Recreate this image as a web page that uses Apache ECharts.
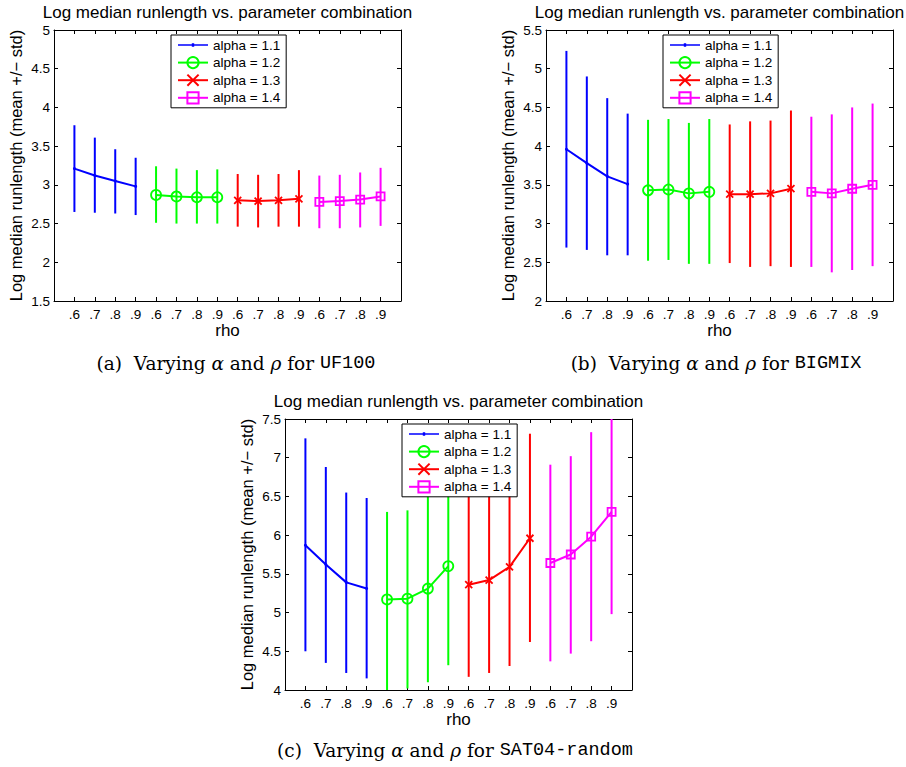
<!DOCTYPE html>
<html>
<head>
<meta charset="utf-8">
<script src="https://cdn.jsdelivr.net/npm/echarts@6/dist/echarts.min.js"></script>
<style>
  html, body { margin: 0; padding: 0; background: #fff; }
  #chart { width: 906px; height: 767px; }
</style>
</head>
<body>
<div id="chart"></div>
<script>
// Tick labels and series names
const rhoLabels = ['.6', '.7', '.8', '.9'];
const alphaNames = ['alpha = 1.1', 'alpha = 1.2', 'alpha = 1.3', 'alpha = 1.4'];

// UF100: mean, mean+std, mean-std per alpha group (rho = .6 .. .9)
const uf100Mean = [[3.21, 3.12, 3.05, 2.98], [2.87, 2.85, 2.84, 2.84], [2.80, 2.79, 2.80, 2.82], [2.78, 2.79, 2.81, 2.85]];
const uf100Upper = [[3.77, 3.61, 3.46, 3.35], [3.24, 3.21, 3.19, 3.20], [3.14, 3.13, 3.14, 3.19], [3.12, 3.13, 3.16, 3.22]];
const uf100Lower = [[2.65, 2.64, 2.63, 2.61], [2.51, 2.50, 2.50, 2.50], [2.46, 2.45, 2.46, 2.46], [2.44, 2.44, 2.45, 2.47]];

// BIGMIX
const bigmixMean = [[3.96, 3.78, 3.61, 3.51], [3.43, 3.44, 3.39, 3.41], [3.38, 3.38, 3.39, 3.45], [3.41, 3.39, 3.45, 3.50]];
const bigmixUpper = [[5.23, 4.90, 4.62, 4.42], [4.34, 4.35, 4.30, 4.35], [4.28, 4.32, 4.33, 4.46], [4.38, 4.41, 4.50, 4.55]];
const bigmixLower = [[2.69, 2.66, 2.59, 2.59], [2.52, 2.53, 2.48, 2.48], [2.49, 2.44, 2.45, 2.44], [2.44, 2.37, 2.40, 2.45]];

// SAT04-random
const satMean = [[5.87, 5.62, 5.39, 5.31], [5.17, 5.18, 5.31, 5.60], [5.36, 5.42, 5.59, 5.96], [5.64, 5.75, 5.98, 6.30]];
const satUpper = [[7.25, 6.88, 6.55, 6.48], [6.30, 6.32, 6.55, 6.88], [6.55, 6.62, 6.87, 7.31], [6.91, 7.02, 7.33, 7.62]];
const satLower = [[4.50, 4.35, 4.22, 4.15], [4.00, 4.02, 4.10, 4.32], [4.17, 4.22, 4.31, 4.62], [4.37, 4.47, 4.63, 4.98]];

// y-axis ranges per panel
const yMins = [1.5, 2, 4];
const yMaxs = [5, 5.5, 7.5];

const colors = ['#0000ff', '#00ff00', '#ff0000', '#ff00ff'];
const symbols = ['circle', 'circle', 'path://M0 0L10 10M10 0L0 10', 'rect'];
const symbolSizes = [3, 10, 7, 8];
// legend sample for the point-marker series: line with a small dot
const dotLineIcon = 'path://M0 6.2H30V7.8H0Z M13.8 5.3H16.2V8.7H13.8Z';

const panels = [
  { mean: uf100Mean, upper: uf100Upper, lower: uf100Lower, grid: { left: 54, top: 30 } },
  { mean: bigmixMean, upper: bigmixUpper, lower: bigmixLower, grid: { left: 546, top: 30 } },
  { mean: satMean, upper: satUpper, lower: satLower, grid: { left: 285, top: 419 } }
];
const captions = [
  { dataset: 'UF100', letter: 'a', x: 236, y: 363 },
  { dataset: 'BIGMIX', letter: 'b', x: 716, y: 363 },
  { dataset: 'SAT04-random', letter: 'c', x: 455, y: 750 }
];

const FONT = '"Liberation Sans", Arial, Helvetica, sans-serif';
const SERIF = '"DejaVu Serif", "Liberation Serif", serif';
const MONO = '"Liberation Mono", "DejaVu Sans Mono", monospace';
const GW = 347, GH = 271;

const grids = [], xAxes = [], yAxes = [], series = [], legends = [], graphics = [];

panels.forEach((p, pi) => {
  grids.push({ left: p.grid.left, top: p.grid.top, width: GW, height: GH, show: false });

  const xBase = {
    gridIndex: pi, type: 'value', min: 0, max: 17, interval: 1,
    axisLine: { show: true, onZero: false, lineStyle: { color: '#000', width: 1 } },
    axisTick: { show: true, inside: true, length: 4, lineStyle: { color: '#000' } },
    splitLine: { show: false }
  };
  xAxes.push(Object.assign({}, xBase, {
    position: 'bottom',
    name: 'rho', nameLocation: 'middle', nameGap: 18,
    nameTextStyle: { fontFamily: FONT, fontSize: 17, color: '#000' },
    axisLabel: {
      margin: 6, fontFamily: FONT, fontSize: 13.5, color: '#000',
      formatter: v => (v >= 1 && v <= 16) ? rhoLabels[(v - 1) % 4] : ''
    }
  }));
  xAxes.push(Object.assign({}, xBase, { position: 'top', axisLabel: { show: false } }));

  const yBase = {
    gridIndex: pi, type: 'value', min: yMins[pi], max: yMaxs[pi], interval: 0.5,
    axisLine: { show: true, onZero: false, lineStyle: { color: '#000', width: 1 } },
    axisTick: { show: true, inside: true, length: 4, lineStyle: { color: '#000' } },
    splitLine: { show: false }
  };
  yAxes.push(Object.assign({}, yBase, {
    position: 'left',
    name: 'Log median runlength (mean +/\u2212 std)', nameLocation: 'middle', nameGap: 30,
    nameTextStyle: { fontFamily: FONT, fontSize: 16.5, color: '#000' },
    axisLabel: { margin: 4, fontFamily: FONT, fontSize: 13.5, color: '#000' }
  }));
  yAxes.push(Object.assign({}, yBase, { position: 'right', axisLabel: { show: false } }));

  for (let a = 0; a < 4; a++) {
    const xs = rhoLabels.map((_, r) => a * 4 + r + 1);
    // vertical mean +/- std bars
    series.push({
      type: 'custom', xAxisIndex: pi * 2, yAxisIndex: pi * 2, clip: true, z: 2,
      silent: true,
      data: xs.map((x, r) => [x, p.lower[a][r], p.upper[a][r]]),
      renderItem: (params, api) => {
        const lo = api.coord([api.value(0), api.value(1)]);
        const hi = api.coord([api.value(0), api.value(2)]);
        return {
          type: 'line',
          shape: { x1: lo[0], y1: lo[1], x2: hi[0], y2: hi[1] },
          style: { stroke: colors[a], lineWidth: 2 }
        };
      }
    });
    // mean line with markers
    series.push({
      type: 'line', name: alphaNames[a], xAxisIndex: pi * 2, yAxisIndex: pi * 2, z: 3,
      data: xs.map((x, r) => [x, p.mean[a][r]]),
      symbol: symbols[a], symbolSize: symbolSizes[a], showSymbol: true,
      lineStyle: { color: colors[a], width: 2 },
      itemStyle: {
        color: a === 0 ? colors[a] : 'rgba(0,0,0,0)',
        borderColor: colors[a], borderWidth: a === 0 ? 0 : 1.8
      },
      emphasis: { disabled: true },
      animation: false
    });
  }

  legends.push({
    data: alphaNames.map((n, a) => a === 0
      ? { name: n, icon: dotLineIcon, itemStyle: { color: colors[0], borderWidth: 0 } }
      : { name: n }),
    orient: 'vertical',
    left: p.grid.left + 117, top: p.grid.top + 5,
    itemWidth: 30, itemHeight: 14, itemGap: 3.6,
    padding: [3, 6, 3, 6],
    backgroundColor: '#fff', borderColor: '#000', borderWidth: 1,
    textStyle: { fontFamily: FONT, fontSize: 13.5, color: '#000' },
    selectedMode: false, z: 10
  });

  graphics.push({
    type: 'text', x: p.grid.left + GW / 2, y: p.grid.top - 18,
    style: {
      text: 'Log median runlength vs. parameter combination',
      font: '17px ' + FONT, fill: '#000', align: 'center', verticalAlign: 'middle'
    }
  });
});

captions.forEach(c => {
  graphics.push({
    type: 'text', x: c.x, y: c.y,
    style: {
      text: '{s|(' + c.letter + ')  Varying }{i|\u03b1}{s| and }{i|\u03c1}{s| for }{m|' + c.dataset + '}',
      align: 'center', verticalAlign: 'middle', fill: '#000',
      rich: {
        s: { fontFamily: SERIF, fontSize: 18.5, fill: '#000' },
        i: { fontFamily: SERIF, fontSize: 18.5, fontStyle: 'italic', fill: '#000' },
        m: { fontFamily: MONO, fontSize: 18.5, fill: '#000' }
      }
    }
  });
});

const chart = echarts.init(document.getElementById('chart'), null, { renderer: 'svg' });
chart.setOption({
  backgroundColor: '#fff',
  animation: false,
  grid: grids,
  xAxis: xAxes,
  yAxis: yAxes,
  legend: legends,
  series: series,
  graphic: graphics
});
</script>
</body>
</html>
